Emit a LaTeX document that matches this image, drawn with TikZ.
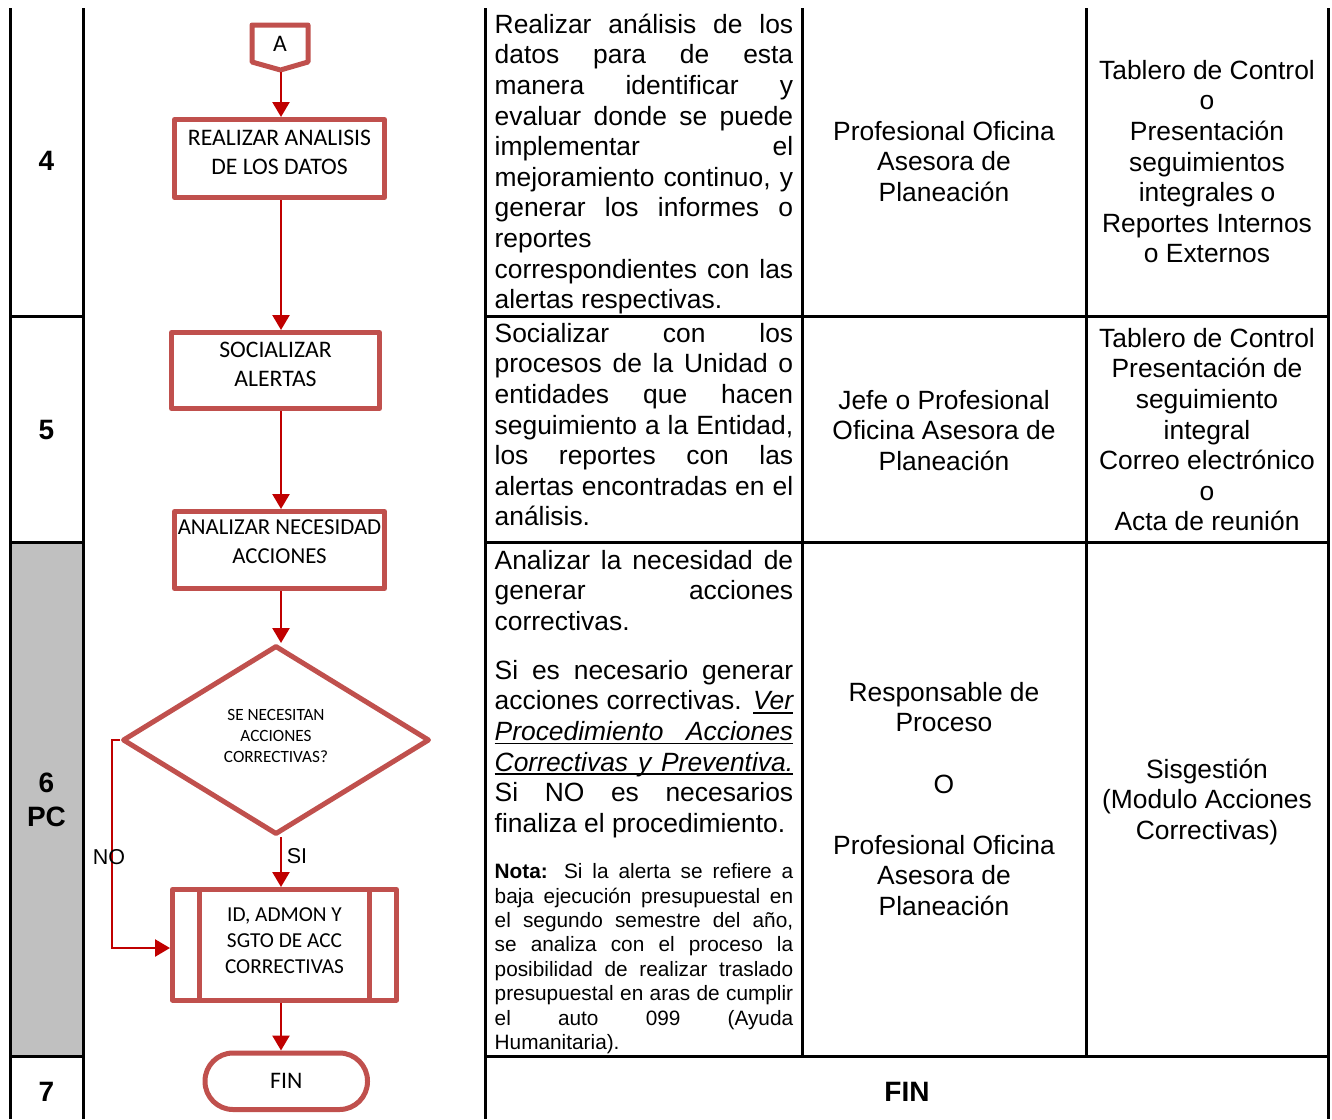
\documentclass[tikz,border=0pt]{standalone}
\usepackage{fontspec}
\setmainfont{Liberation Sans}
\newfontfamily\calibfont{Carlito}
\usetikzlibrary{shapes.geometric,arrows.meta}
\definecolor{shapered}{HTML}{C0504D}
\definecolor{arrred}{HTML}{C00000}
\definecolor{cellgray}{HTML}{C0C0C0}
\newlength\colw \setlength\colw{298.5pt}
\newcommand\fBody{\fontsize{26.4}{30.6}\selectfont}
\newcommand\fNota{\fontsize{20.8}{24.4}\selectfont}
\newcommand\fBold{\fontsize{28}{34}\selectfont\bfseries}
\newcommand\fBox{\calibfont\fontsize{23.7}{29}\selectfont}
\newcommand\fBoxN{\calibfont\fontsize{22.8}{29}\selectfont}
\newcommand\fBoxS{\calibfont\fontsize{21.3}{26}\selectfont}
\newcommand\fDia{\calibfont\fontsize{17.2}{21}\selectfont}
\newcommand\fLbl{\fontsize{21.5}{26}\selectfont}
\newcommand\jln[1]{\makebox[\colw][s]{\strut #1}}
\newcommand\lln[1]{\makebox[\colw][l]{\strut #1}}
\newcommand\uln[1]{\strut\rlap{\rule[-3.8pt]{\colw}{1.6pt}}\makebox[\colw][s]{\itshape #1}}
\newcommand\ulword[1]{\setbox0=\hbox{#1}\rlap{\rule[-3.8pt]{\wd0}{1.6pt}}\box0}
\tikzset{
  fshape/.style={draw=shapered, line width=5pt, line join=round, fill=white, inner sep=0pt, align=center},
  arr/.style={draw=arrred, line width=2.5pt, -{Triangle[width=17pt,length=15pt]}},
  tline/.style={line width=3pt, black},
  coltext/.style={anchor=north west, inner sep=0pt, align=left, font=\fBody},
  ctext/.style={anchor=north, inner sep=0pt, align=center, font=\fBody},
  numtext/.style={inner sep=0pt, align=center, font=\fBold},
}
\begin{document}
\begin{tikzpicture}[x=1pt,y=-1pt]
\useasboundingbox (0,0) rectangle (1332,1119);
\fill[white] (0,0) rectangle (1332,1119);
% gray cell
\fill[cellgray] (10,542) rectangle (83.5,1056);
% table lines
\draw[tline] (10,8) -- (10,1119);
\draw[tline] (83.5,8) -- (83.5,1119);
\draw[tline] (485,8) -- (485,1119);
\draw[tline] (802.5,8) -- (802.5,1056);
\draw[tline] (1086,8) -- (1086,1056);
\draw[tline] (1328.3,8) -- (1328.3,1119);
\foreach \yy in {316,542,1056}{
  \draw[tline] (10,\yy) -- (83.5,\yy);
  \draw[tline] (485,\yy) -- (1328.3,\yy);
}
% row numbers
\node[numtext] (n4) at (46.5,160.5) {4};
\node[numtext] (n5) at (46.5,430) {5};
\node[numtext] (n6) at (46.5,800) {6\\PC};
\node[numtext] (n7) at (46.5,1091.5) {7};
\node[numtext] (finrow) at (907,1092) {FIN};

% flowchart
\coordinate (ax) at (281,0);
\draw[fshape] (252,25) -- (308,25) -- (308,62) -- (280.5,70) -- (252,62) -- cycle;
\node[font=\fBox, inner sep=0pt] (offA) at (280,43.7) {A};
\coordinate (tipA) at (281,72);
\node[fshape, font=\fBox, minimum width=210pt, minimum height=78pt, text depth=12pt] (b1) at (279.5,158.5) {REALIZAR ANALISIS\\DE LOS DATOS};
\node[fshape, font=\fBox, minimum width=208pt, minimum height=76pt, text depth=13pt] (b2) at (275.5,370.5) {SOCIALIZAR\\ALERTAS};
\node[fshape, font=\fBoxN, minimum width=210pt, minimum height=77pt, text depth=17pt] (b3) at (279.5,550) {ANALIZAR NECESIDAD\\ACCIONES};
\node[fshape, shape=diamond, font=\fDia, minimum width=307pt, minimum height=189pt, text depth=8pt] (dia) at (276,740) {SE NECESITAN\\ACCIONES\\CORRECTIVAS?};
\node[fshape, font=\fBoxS, minimum width=224pt, minimum height=110.5pt, text depth=7.5pt] (b4) at (284.5,944.75) {ID, ADMON Y\\SGTO DE ACC\\CORRECTIVAS};
\draw[draw=shapered, line width=5pt] ([xshift=29.5pt]b4.north west) -- ([xshift=29.5pt]b4.south west);
\draw[draw=shapered, line width=5pt] ([xshift=-29.5pt]b4.north east) -- ([xshift=-29.5pt]b4.south east);
\node[fshape, font=\fBox, minimum width=162.5pt, minimum height=56.5pt, rounded corners=28pt] (fin) at (286.25,1081.25) {FIN};
\coordinate (noc) at (112,948);

\draw[arr] (tipA) -- (b1.north -| ax);
\draw[arr] (b1.south -| ax) -- (b2.north -| ax);
\draw[arr] (b2.south -| ax) -- (b3.north -| ax);
\draw[arr] (b3.south -| ax) -- (dia.north -| ax);
\draw[arr] (dia.south -| ax) -- (b4.north -| ax);
\draw[arr] (b4.south -| ax) -- (fin.north -| ax);
\draw[arr] (dia.west) -| (noc) -- (noc -| b4.west);
\node[font=\fLbl, inner sep=0pt] (lsi) at (297,856) {SI};
\node[font=\fLbl, inner sep=0pt] (lno) at (109,857) {NO};

% column 3 text
\node[coltext] (t4) at (494.5,11.58) {%
\jln{Realizar análisis de los}\\
\jln{datos para de esta}\\
\jln{manera identificar y}\\
\jln{evaluar donde se puede}\\
\jln{implementar el}\\
\jln{mejoramiento continuo, y}\\
\jln{generar los informes o}\\
\lln{reportes}\\
\jln{correspondientes con las}\\
\lln{alertas respectivas.}};
\node[coltext] (t5) at (494.5,320.58) {%
\jln{Socializar con los}\\
\jln{procesos de la Unidad o}\\
\jln{entidades que hacen}\\
\jln{seguimiento a la Entidad,}\\
\jln{los reportes con las}\\
\jln{alertas encontradas en el}\\
\lln{análisis.}};
\node[coltext] (t6a) at (494.5,547.58) {%
\jln{Analizar la necesidad de}\\
\jln{generar acciones}\\
\lln{correctivas.}};
\node[coltext] (t6b) at (494.5,657.58) {%
\jln{Si es necesario generar}\\
\jln{acciones correctivas. \ulword{\itshape Ver}}\\
\uln{Procedimiento Acciones}\\
\uln{Correctivas y Preventiva.}\\
\jln{Si NO es necesarios}\\
\lln{finaliza el procedimiento.}};
\node[coltext, font=\fNota] (t6n) at (494.5,861.42) {%
\jln{\textbf{Nota:} Si la alerta se refiere a}\\
\jln{baja ejecución presupuestal en}\\
\jln{el segundo semestre del año,}\\
\jln{se analiza con el proceso la}\\
\jln{posibilidad de realizar traslado}\\
\jln{presupuestal en aras de cumplir}\\
\jln{el auto 099 (Ayuda}\\
\lln{Humanitaria).}};

% column 4 text
\node[ctext] (r4) at (944,118.58) {\strut Profesional Oficina\\\strut Asesora de\\\strut Planeación};
\node[ctext] (r5) at (944,387.58) {\strut Jefe o Profesional\\\strut Oficina Asesora de\\\strut Planeación};
\node[ctext] (r6) at (944,679.58) {\strut Responsable de\\\strut Proceso\\\strut\\\strut O\\\strut\\\strut Profesional Oficina\\\strut Asesora de\\\strut Planeación};

% column 5 text
\node[ctext] (d4) at (1207,57.58) {\strut Tablero de Control\\\strut o\\\strut Presentación\\\strut seguimientos\\\strut integrales o\\\strut Reportes Internos\\\strut o Externos};
\node[ctext] (d5) at (1207,325.58) {\strut Tablero de Control\\\strut Presentación de\\\strut seguimiento\\\strut integral\\\strut Correo electrónico\\\strut o\\\strut Acta de reunión};
\node[ctext] (d6) at (1207,756.58) {\strut Sisgestión\\\strut (Modulo Acciones\\\strut Correctivas)};
\end{tikzpicture}
\end{document}
